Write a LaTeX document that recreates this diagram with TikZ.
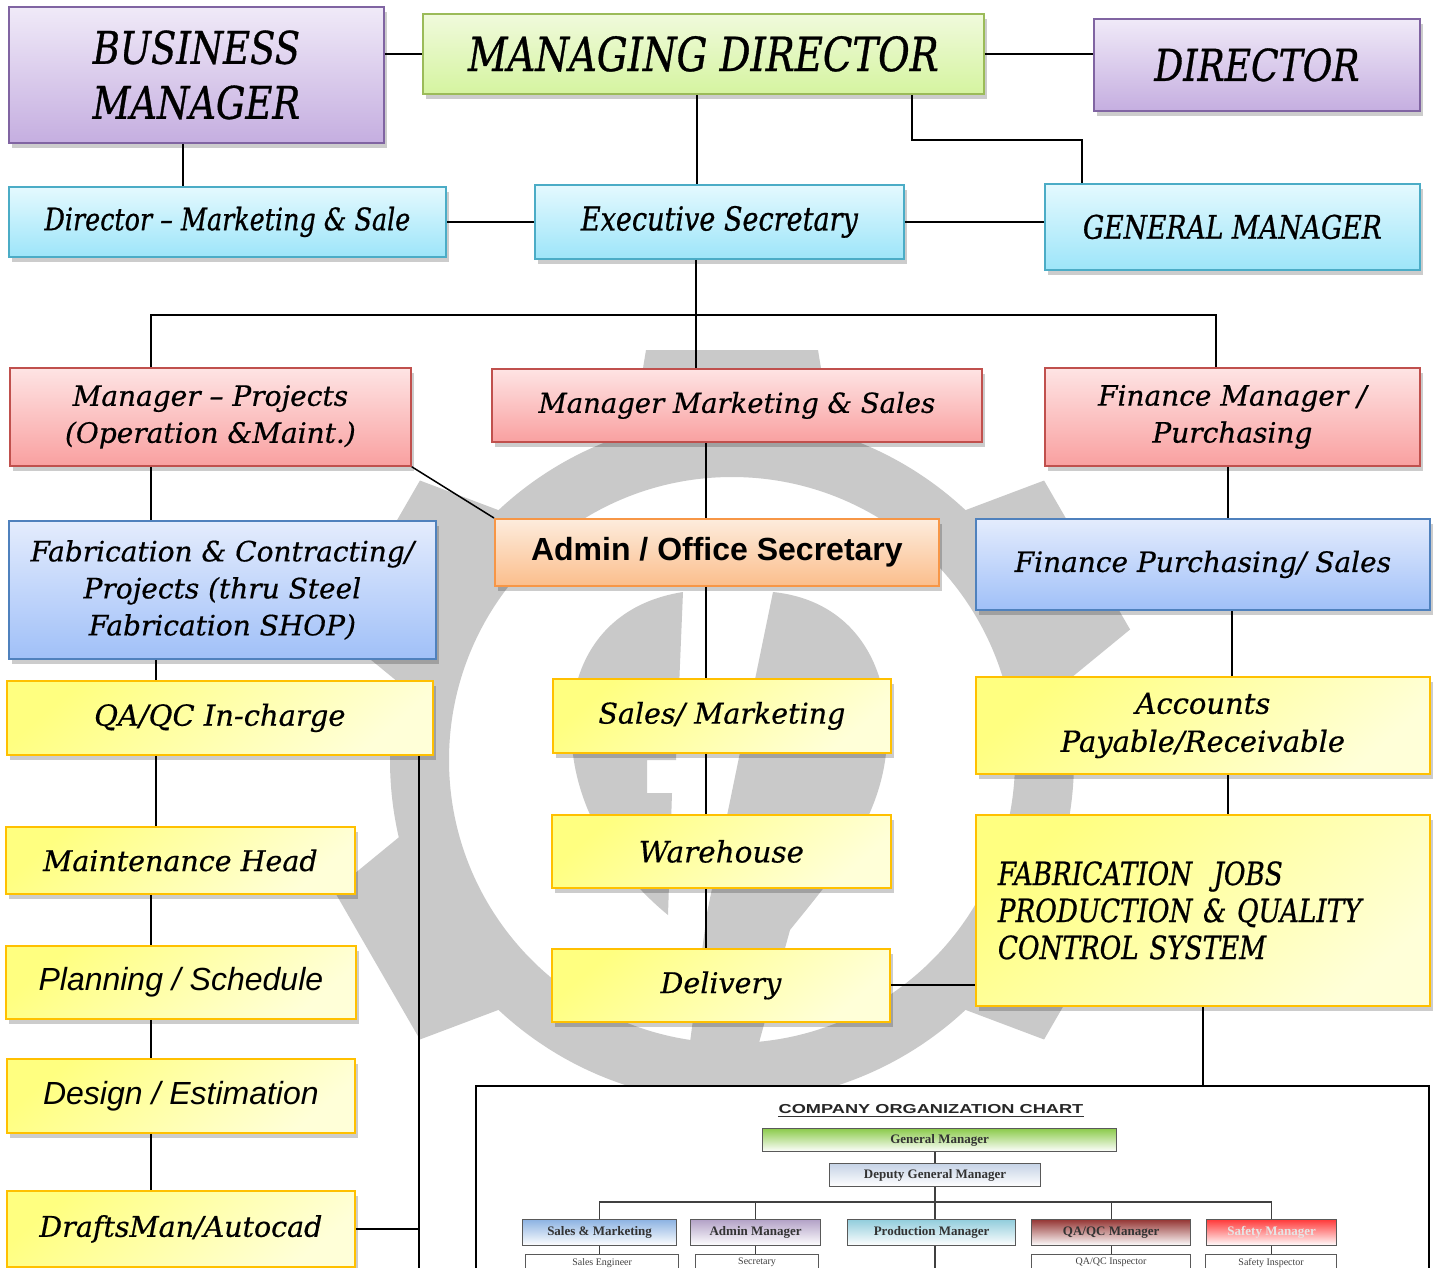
\documentclass[tikz,border=0pt]{standalone}
\usepackage{fontspec}
\setmainfont{DejaVu Serif}
\newfontfamily\rock{DejaVu Serif}[FakeStretch=0.82,FakeBold=0.7]
\newfontfamily\bookf{DejaVu Serif}[FakeBold=0.5]
\newfontfamily\arialf{Liberation Sans}
\newfontfamily\widef{Liberation Sans}[FakeStretch=1.4]
\newfontfamily\tmsf{Liberation Serif}
\usetikzlibrary{shadows,calc}
\definecolor{purT}{HTML}{F0EAF8}
\definecolor{purBo}{HTML}{C5AEE0}
\definecolor{purD}{HTML}{8064A2}
\definecolor{grnT}{HTML}{F0FADC}
\definecolor{grnBo}{HTML}{D5F4A0}
\definecolor{grnD}{HTML}{9BBB59}
\definecolor{cyT}{HTML}{E4F9FE}
\definecolor{cyBo}{HTML}{9DE5F9}
\definecolor{cyD}{HTML}{4BACC6}
\definecolor{rdT}{HTML}{FEE4E4}
\definecolor{rdBo}{HTML}{F9A0A0}
\definecolor{rdD}{HTML}{C0504D}
\definecolor{blT}{HTML}{E4ECFD}
\definecolor{blBo}{HTML}{A0C0F8}
\definecolor{blD}{HTML}{4F81BD}
\definecolor{orT}{HTML}{FDECDD}
\definecolor{orBo}{HTML}{FBBE8C}
\definecolor{orD}{HTML}{F79646}
\definecolor{ylT}{HTML}{FFFF80}
\definecolor{ylBo}{HTML}{FFFFD8}
\definecolor{ylD}{HTML}{FFC000}
\definecolor{gearc}{HTML}{C9C9C9}
\definecolor{sgrn}{HTML}{8CCB4C}
\definecolor{sblu}{HTML}{8DB3E2}
\definecolor{spur}{HTML}{B3A2C7}
\definecolor{scy}{HTML}{92CDDC}
\definecolor{sdrd}{HTML}{953735}
\definecolor{sred}{HTML}{FF3B3B}
\definecolor{sdg}{HTML}{C6D3E6}
\begin{document}
\begin{tikzpicture}[x=1pt,y=-1pt,
  box/.style={draw, line width=1.8pt, inner sep=0pt, align=center, anchor=north west, text=black,
    drop shadow={shadow xshift=3pt, shadow yshift=-5pt, opacity=0.2, fill=black}},
  pur/.style={box, draw=purD, top color=purT, bottom color=purBo},
  grn/.style={box, draw=grnD, top color=grnT, bottom color=grnBo},
  cyn/.style={box, draw=cyD, top color=cyT, bottom color=cyBo},
  red/.style={box, draw=rdD, top color=rdT, bottom color=rdBo},
  blu/.style={box, draw=blD, top color=blT, bottom color=blBo},
  org/.style={box, draw=orD, top color=orT, bottom color=orBo},
  yel/.style={box, draw=ylD, top color=ylT, bottom color=ylBo, shading angle=40},
  fR/.style 2 args={font=\rock\itshape\fontsize{#1}{#2}\selectfont},
  fB/.style 2 args={font=\bookf\itshape\fontsize{#1}{#2}\selectfont},
  fA/.style={font=\arialf\itshape\fontsize{#1}{#1}\selectfont},
  fAB/.style={font=\arialf\bfseries\fontsize{#1}{#1}\selectfont},
  conn/.style={line width=2pt, black},
  sbox/.style={draw=black!65, line width=1.2pt, inner sep=0pt, anchor=north west,
    font=\tmsf\bfseries\fontsize{13}{13}\selectfont, text=black!80},
  stxt/.style={font=\tmsf\fontsize{10}{10}\selectfont, text=black!75, inner sep=0pt, anchor=north},
  sconn/.style={line width=1.2pt, black!75}]
\useasboundingbox (0,0) rectangle (1435,1267);
\clip (0,0) rectangle (1435,1267);
\fill[white] (0,0) rectangle (1435,1267);
% ---------- watermark gear ----------
\begin{scope}[shift={(732,760)}]
  \fill[gearc, even odd rule] (0,0) circle (342pt) (0,0) circle (283pt);
  \foreach \a in {30,90,...,330}
    \fill[gearc, rotate=\a] (325,-100) -- (410,-86) -- (410,86) -- (325,100) -- cycle;
\end{scope}
\fill[gearc] (683,592) .. controls (600,605) and (565,670) .. (572,745)
  .. controls (578,820) and (625,880) .. (668,915) -- (672,793) -- (647,793) -- (647,760) -- (676,760) -- cycle;
\fill[gearc] (773,592) .. controls (850,600) and (890,660) .. (887,740)
  .. controls (884,820) and (830,880) .. (790,930) -- (757,1050) -- (689,1050) -- (707,913) -- cycle;
% ---------- boxes ----------
\node[pur, fR={45}{55}, minimum width=375pt, minimum height=136pt] (bm) at (8,6) {BUSINESS\\MANAGER};
\node[grn, fR={47}{47}, minimum width=561pt, minimum height=80pt] (md) at (422,13) {MANAGING DIRECTOR};
\node[pur, fR={44}{44}, minimum width=326pt, minimum height=92pt] (dir) at (1093,18) {DIRECTOR};
\node[cyn, fR={31}{31}, minimum width=437pt, minimum height=70pt] (dms) at (8,186) {Director – Marketing \& Sale};
\node[cyn, fR={33}{33}, minimum width=369pt, minimum height=74pt] (es) at (534,184) {Executive Secretary};
\node[cyn, fR={32.5}{33}, minimum width=375pt, minimum height=86pt] (gm) at (1044,183) {GENERAL MANAGER};
\node[red, fB={28}{37}, minimum width=401pt, minimum height=98pt] (mp) at (9,367) {Manager – Projects\\(Operation \&Maint.)};
\node[red, fB={27.5}{37}, minimum width=490pt, minimum height=73pt] (mms) at (491,368) {Manager Marketing \& Sales};
\node[red, fB={28}{37}, minimum width=375pt, minimum height=98pt] (fm) at (1044,367) {Finance Manager /\\Purchasing};
\node[blu, fB={28}{37}, minimum width=427pt, minimum height=138pt] (fab) at (8,520) {Fabrication \& Contracting/\\Projects (thru Steel\\Fabrication SHOP)};
\node[org, fAB=32, minimum width=444pt, minimum height=67pt] (adm) at (494,518) {Admin / Office Secretary};
\node[blu, fB={28}{37}, minimum width=454pt, minimum height=91pt] (fps) at (975,518) {Finance Purchasing/ Sales};
\node[yel, fB={29}{37}, minimum width=426pt, minimum height=74pt] (qa) at (6,680) {QA/QC In-charge};
\node[yel, fB={28.5}{37}, minimum width=338pt, minimum height=74pt] (sm) at (552,678) {Sales/ Marketing};
\node[yel, fB={29}{38}, minimum width=454pt, minimum height=97pt] (acc) at (975,676) {Accounts\\Payable/Receivable};
\node[yel, fB={28.5}{37}, minimum width=349pt, minimum height=67pt] (mh) at (5,826) {Maintenance Head};
\node[yel, fB={29.5}{37}, minimum width=339pt, minimum height=73pt] (wh) at (551,814) {Warehouse};
\node[yel, fR={32}{37}, align=left, text width=410pt, inner xsep=22pt, minimum height=191pt] (fj) at (975,814) {FABRICATION~~JOBS\\PRODUCTION \& QUALITY\\CONTROL SYSTEM};
\node[yel, fA=32, minimum width=350pt, minimum height=73pt] (ps) at (5,945) {Planning / Schedule};
\node[yel, fB={28.5}{37}, minimum width=338pt, minimum height=73pt] (del) at (551,948) {Delivery};
\node[yel, fA=32, minimum width=348pt, minimum height=74pt] (de) at (6,1058) {Design / Estimation};
\node[yel, fB={28.5}{37}, minimum width=348pt, minimum height=76pt] (dm) at (6,1190) {DraftsMan/Autocad};
% ---------- connectors ----------
\coordinate (bus) at (696,315);
\coordinate (qabot) at (419,1275);
\draw[conn] (bm.east |- md.west) -- (md.west);
\draw[conn] (md.east) -- (md.east -| dir.west);
\draw[conn] ([xshift=-13pt]bm.south) -- ([xshift=-13pt]bm.south |- dms.north);
\draw[conn] ([xshift=-6pt]md.south) -- ([xshift=-6pt]md.south |- es.north);
\draw[conn] ([xshift=209pt]md.south) -- ++(0,45) -| ([xshift=-150pt]gm.north);
\draw[conn] (dms.east) -- (es.west);
\draw[conn] (es.east) -- (es.east -| gm.west);
\draw[conn] (es.south -| bus) -- (mms.north -| bus);
\draw[conn] ([xshift=-59pt]mp.north) |- (bus) -| ([xshift=-16pt]fm.north);
\draw[conn, line width=1.5pt] (mp.south east) -- (adm.north west);
\draw[conn] ([xshift=-59pt]mp.south) -- ([xshift=-59pt]mp.south |- fab.north);
\draw[conn] ([xshift=-31pt]mms.south) -- ([xshift=-31pt]mms.south |- adm.north);
\draw[conn] ([xshift=-11pt]adm.south) -- ([xshift=-11pt]adm.south |- sm.north);
\draw[conn] ([xshift=-16pt]sm.south) -- ([xshift=-16pt]sm.south |- wh.north);
\draw[conn] ([xshift=-15pt]wh.south) -- ([xshift=-15pt]wh.south |- del.north);
\draw[conn] ([xshift=-4pt]fm.south) -- ([xshift=-4pt]fm.south |- fps.north);
\draw[conn] ([xshift=29pt]fps.south) -- ([xshift=29pt]fps.south |- acc.north);
\draw[conn] ([xshift=25pt]acc.south) -- ([xshift=25pt]acc.south |- fj.north);
\draw[conn] (del.east) -- (del.east -| fj.west);
\draw[conn] ([xshift=-66pt]fab.south) -- ([xshift=-66pt]fab.south |- qa.north);
\draw[conn] ([xshift=-64pt]qa.south) -- ([xshift=-64pt]qa.south |- mh.north);
\draw[conn] ([xshift=-29pt]mh.south) -- ([xshift=-29pt]mh.south |- ps.north);
\draw[conn] ([xshift=-30pt]ps.south) -- ([xshift=-30pt]ps.south |- de.north);
\draw[conn] ([xshift=-30pt]de.south) -- ([xshift=-30pt]de.south |- dm.north);
\draw[conn] (qa.south -| qabot) -- (qabot);
\draw[conn] (dm.east) -- (dm.east -| qabot);
% ---------- embedded chart ----------
\node[draw=black, line width=2pt, fill=white, inner sep=0pt, anchor=north west,
  minimum width=953pt, minimum height=200pt] (emb) at (475,1085) {};
\draw[conn] (fj.south) -- (fj.south |- emb.north);
\node[font=\widef\bfseries\fontsize{13}{13}\selectfont, text=black!85, inner sep=0pt] (ttl) at (931,1109) {COMPANY ORGANIZATION CHART};
\draw[line width=1.2pt, black!80] ([yshift=-3pt]ttl.south west) -- ([yshift=-3pt]ttl.south east);
\node[sbox, top color=sgrn, bottom color=white, minimum width=354pt, minimum height=23pt] (sgm) at (762,1128) {General Manager};
\node[sbox, top color=sdg, bottom color=white, minimum width=211pt, minimum height=23pt] (sdgm) at (829,1163) {Deputy General Manager};
\node[sbox, top color=sblu, bottom color=white, minimum width=154pt, minimum height=26pt] (s1) at (522,1219) {Sales \& Marketing};
\node[sbox, top color=spur, bottom color=white, minimum width=130pt, minimum height=26pt] (s2) at (690,1219) {Admin Manager};
\node[sbox, top color=scy, bottom color=white, minimum width=168pt, minimum height=26pt] (s3) at (847,1219) {Production Manager};
\node[sbox, top color=sdrd, bottom color=white, minimum width=159pt, minimum height=26pt] (s4) at (1031,1219) {QA/QC Manager};
\node[sbox, top color=sred, bottom color=white, minimum width=130pt, minimum height=26pt, text=white!90!black] (s5) at (1206,1219) {Safety Manager};
\node[sbox, fill=white, minimum width=153pt, minimum height=30pt] (t1) at (525,1254) {};
\node[sbox, fill=white, minimum width=123pt, minimum height=30pt] (t2) at (695,1254) {};
\node[sbox, fill=white, minimum width=159pt, minimum height=30pt] (t4) at (1031,1254) {};
\node[sbox, fill=white, minimum width=131pt, minimum height=30pt] (t5) at (1205,1254) {};
\node[stxt] at ([yshift=-4pt]t1.north) {Sales Engineer};
\node[stxt] at ([yshift=-4pt]t2.north) {Secretary};
\node[stxt] at ([yshift=-4pt]t4.north) {QA/QC Inspector};
\node[stxt] at ([yshift=-4pt]t5.north) {Safety Inspector};
\coordinate (sbus) at (935,1202);
\coordinate (sbot) at (935,1275);
\draw[sconn] (sgm.south -| sbus) -- (sdgm.north -| sbus);
\draw[sconn] (sdgm.south -| sbus) -- (sbus);
\draw[sconn] (s1.north) |- (sbus) -| (s5.north);
\draw[sconn] (s2.north) -- (s2.north |- sbus);
\draw[sconn] (s4.north) -- (s4.north |- sbus);
\draw[sconn] (sbus) -- (s3.north -| sbus);
\draw[sconn] (s3.south -| sbus) -- (sbot);
\draw[sconn] (s1.south) -- (t1.north -| s1.south);
\draw[sconn] (s2.south) -- (t2.north -| s2.south);
\draw[sconn] (s4.south) -- (t4.north -| s4.south);
\draw[sconn] (s5.south) -- (t5.north -| s5.south);
\end{tikzpicture}
\end{document}
